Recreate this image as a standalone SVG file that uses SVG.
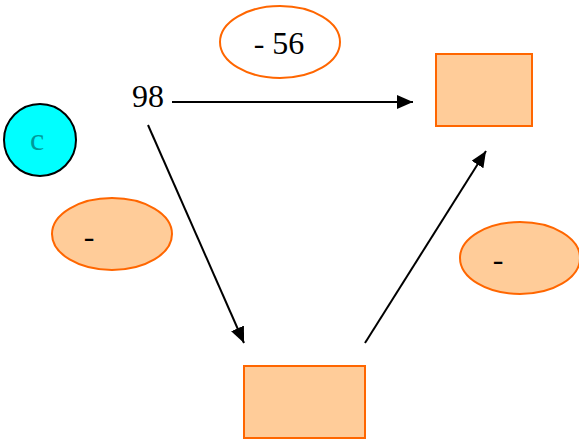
<svg xmlns="http://www.w3.org/2000/svg" width="579" height="439" viewBox="0 0 579 439">
<style>
.sh{fill:#FFCC99;stroke:#FF6600;stroke-width:2}
.t{font-family:'Liberation Serif','Times New Roman','DejaVu Serif',serif;font-size:32px;fill:#000}
.c{stroke:#000;stroke-width:2;fill:none}
</style>
<defs>
<marker id="ah" markerWidth="16" markerHeight="14" refX="16" refY="7" orient="auto" markerUnits="userSpaceOnUse">
<path d="M0,0 L16,7 L0,14 Z" fill="#000"/>
</marker>
</defs>
<rect width="579" height="439" fill="#fff"/>
<g id="connectors">
<line class="c" x1="172" y1="102" x2="413" y2="102" marker-end="url(#ah)"/>
<line class="c" x1="148" y1="125" x2="244" y2="343" marker-end="url(#ah)"/>
<line class="c" x1="365" y1="343" x2="486" y2="151" marker-end="url(#ah)"/>
</g>
<g id="label56">
<ellipse cx="280" cy="42" rx="60" ry="36" fill="#fff" stroke="#FF6600" stroke-width="2"/>
<text class="t" x="279" y="54" text-anchor="middle">- 56</text>
</g>
<g id="node98">
<text class="t" x="132" y="107">98</text>
</g>
<g id="nodeTopRight">
<rect class="sh" x="436" y="54" width="96" height="72"/>
</g>
<g id="nodeC">
<circle cx="40" cy="140" r="36" fill="#00FFFF" stroke="#000" stroke-width="2"/>
<text class="t" x="37" y="150" text-anchor="middle" style="fill:#009999">c</text>
</g>
<g id="labelLeft">
<ellipse class="sh" cx="112" cy="234" rx="60" ry="36"/>
<text class="t" x="89" y="247" text-anchor="middle">-</text>
</g>
<g id="labelRight">
<ellipse class="sh" cx="520" cy="258" rx="60" ry="36"/>
<text class="t" x="498" y="270" text-anchor="middle">-</text>
</g>
<g id="nodeBottom">
<rect class="sh" x="244" y="366" width="121" height="72"/>
</g>
</svg>
